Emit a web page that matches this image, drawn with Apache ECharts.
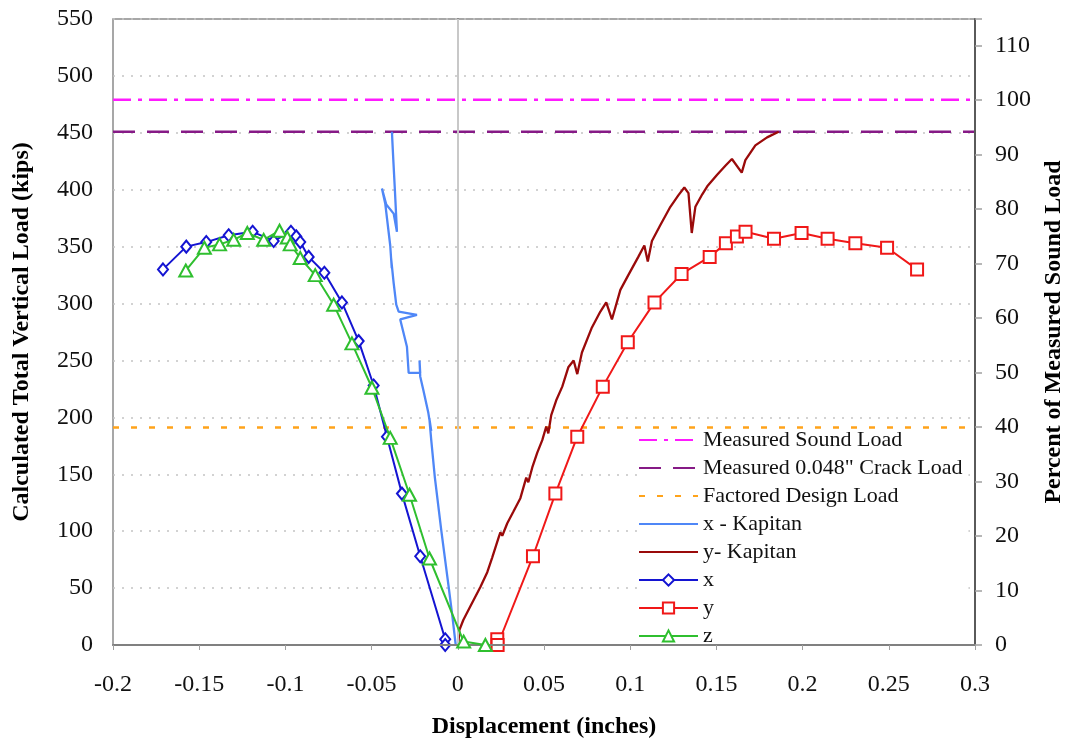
<!DOCTYPE html>
<html>
<head>
<meta charset="utf-8">
<script src="https://cdn.jsdelivr.net/npm/echarts@6/dist/echarts.min.js"></script>
<style>
  html, body { margin: 0; padding: 0; background: #fff; overflow: hidden; }
  #chart { width: 1068px; height: 742px; }
</style>
</head>
<body>
<div id="chart"></div>
<script>
// Reference load levels (kips)
const soundLoad = 479;
const crackLoad = 451;
const designLoad = 191;

// Axis ranges
const xMin = -0.2, xMax = 0.3, xStep = 0.05;
const loadMax = 550, loadStep = 50;
const pctStep = 10;

// x - Kapitan: displacement (in) and load (kips)
const xKapDisp = [-0.0012, -0.0032, -0.0053, -0.0096, -0.0133, -0.0154, -0.0165, -0.0154, -0.0171, -0.0200,
  -0.0218, -0.0222, -0.0218, -0.0285, -0.0295, -0.0334, -0.0237, -0.0343, -0.0357, -0.0372,
  -0.0387, -0.0383, -0.0392, -0.0421, -0.0440, -0.0415, -0.0372, -0.0353, -0.0365, -0.0374,
  -0.0380, -0.0382];
const xKapLoad = [0, 26, 51, 101, 147, 180, 199, 188, 204, 224,
  236, 250, 239, 239, 262, 286, 290, 293, 299, 318,
  340, 331, 351, 388, 401, 387, 379, 363, 400, 426,
  444, 451];

// y- Kapitan
const yKapDisp = [0.0003, 0.0009, 0.0032, 0.0073, 0.0131, 0.0171, 0.0200, 0.0238, 0.0247, 0.0258,
  0.0287, 0.0322, 0.0363, 0.0397, 0.0409, 0.0432, 0.0461, 0.0490, 0.0513, 0.0525,
  0.0542, 0.0571, 0.0606, 0.0641, 0.0672, 0.0693, 0.0720, 0.0778, 0.0827, 0.0861,
  0.0894, 0.0943, 0.0989, 0.1047, 0.1082, 0.1102, 0.1126, 0.1175, 0.1233, 0.1279,
  0.1314, 0.1338, 0.1357, 0.1378, 0.1418, 0.1447, 0.1503, 0.1552, 0.1590, 0.1647,
  0.1668, 0.1726, 0.1794, 0.1861];
const yKapLoad = [0, 13, 22, 34, 51, 64, 77, 95, 99, 96,
  107, 117, 129, 147, 143, 156, 169, 180, 192, 186,
  202, 215, 227, 244, 250, 238, 257, 279, 293, 301,
  286, 312, 325, 341, 351, 337, 355, 369, 385, 395,
  402, 397, 362, 385, 396, 403, 413, 421, 427, 415,
  426, 439, 446, 451];

// x (diamonds)
const xDisp = [-0.1710, -0.1575, -0.1459, -0.1329, -0.1190, -0.1068, -0.0968, -0.0937, -0.0914, -0.0865,
  -0.0774, -0.0672, -0.0575, -0.0488, -0.0411, -0.0324, -0.0218, -0.0073, -0.0073];
const xLoad = [330, 350, 354, 360, 363, 355, 363, 359, 354, 341,
  327, 301, 267, 228, 183, 133, 78, 5, 0];

// y (squares)
const yDisp = [0.0229, 0.0231, 0.0436, 0.0566, 0.0693, 0.0841, 0.0986, 0.1141, 0.1298, 0.1461,
  0.1555, 0.1619, 0.1669, 0.1834, 0.1994, 0.2145, 0.2306, 0.2490, 0.2664];
const yLoad = [5, 0, 78, 133, 183, 227, 266, 301, 326, 341,
  353, 359, 363, 357, 362, 357, 353, 349, 330];

// z (triangles)
const zDisp = [-0.1578, -0.1470, -0.1382, -0.1300, -0.1221, -0.1126, -0.1034, -0.0989, -0.0972, -0.0914,
  -0.0827, -0.0720, -0.0614, -0.0498, -0.0392, -0.0280, -0.0164, 0.0034, 0.0160];
const zLoad = [329, 349, 352, 356, 362, 356, 364, 358, 352, 340,
  325, 299, 265, 226, 182, 132, 76, 3, 0];

const pairs = (xs, ys) => xs.map((v, i) => [v, ys[i]]);
const flat = (v) => [[xMin, v], [xMax, v]];

const serif = 'Liberation Serif';
const chart = echarts.init(document.getElementById('chart'));

// legend entries for plain lines carry no marker
const noMarker = { color: 'rgba(0,0,0,0)', borderWidth: 0, opacity: 0 };

chart.setOption({
  animation: false,
  backgroundColor: '#fff',
  textStyle: { fontFamily: serif, color: '#000' },
  grid: {
    left: 113, right: 93, top: 19, bottom: 97,
    outerBoundsMode: 'none', containLabel: false,
    show: true, borderColor: '#8a8a8a', borderWidth: 1.5, backgroundColor: '#fff'
  },
  legend: {
    orient: 'vertical',
    left: 638, top: 429,
    padding: [0, 6, 2, 0],
    backgroundColor: '#fff',
    itemWidth: 59, itemHeight: 14, itemGap: 6,
    textStyle: { fontFamily: serif, fontSize: 22, color: '#111', lineHeight: 22 },
    data: [
      { name: 'Measured Sound Load', itemStyle: noMarker },
      { name: 'Measured 0.048" Crack Load', itemStyle: noMarker },
      { name: 'Factored Design Load', itemStyle: noMarker },
      { name: 'x - Kapitan', itemStyle: noMarker },
      { name: 'y- Kapitan', itemStyle: noMarker },
      'x', 'y', 'z'
    ]
  },
  xAxis: {
    type: 'value',
    z: 6,
    min: xMin, max: xMax, interval: xStep,
    name: 'Displacement (inches)',
    nameLocation: 'middle', nameGap: 70,
    nameTextStyle: { fontFamily: serif, fontSize: 24, fontWeight: 'bold', color: '#000' },
    axisLine: { onZero: false, lineStyle: { color: '#808080', width: 2 } },
    axisTick: { show: true, length: 5, lineStyle: { color: '#a0a0a0' } },
    axisLabel: { fontFamily: serif, fontSize: 24, color: '#111', margin: 28 },
    splitLine: { show: false }
  },
  yAxis: [{
    type: 'value',
    min: 0, max: loadMax, interval: loadStep,
    name: 'Calculated Total Vertical Load (kips)',
    nameLocation: 'middle', nameGap: 79, nameRotate: 90,
    nameTextStyle: { fontFamily: serif, fontSize: 24, fontWeight: 'bold', color: '#000' },
    axisLine: { show: true, lineStyle: { color: '#808080', width: 2 } },
    axisTick: { show: false },
    axisLabel: { fontFamily: serif, fontSize: 24, color: '#111', margin: 20 },
    splitLine: { show: true, lineStyle: { color: '#c4c4c4', width: 1.5, type: [2, 7] } }
  }, {
    type: 'value',
    position: 'right',
    z: 6,
    min: 0, max: loadMax / soundLoad * 100, interval: pctStep,
    name: 'Percent of Measured Sound Load',
    nameLocation: 'middle', nameGap: 63, nameRotate: 90,
    nameTextStyle: { fontFamily: serif, fontSize: 24, fontWeight: 'bold', color: '#000' },
    axisLine: { show: true, lineStyle: { color: '#5a5a5a', width: 2 } },
    axisTick: { show: true, length: 7, lineStyle: { color: '#a0a0a0', width: 1.5 } },
    axisLabel: {
      fontFamily: serif, fontSize: 24, color: '#111', margin: 20,
      formatter: (v) => (Math.abs(v / pctStep - Math.round(v / pctStep)) < 1e-6 ? String(Math.round(v)) : '')
    },
    splitLine: { show: false }
  }],
  series: [
    {
      name: 'Measured Sound Load', type: 'line', symbol: 'none', z: 3,
      data: flat(soundLoad),
      lineStyle: { color: '#ff1aff', width: 2.5, type: [18, 7, 4, 7] },
      itemStyle: { color: '#ff1aff' },
      markLine: {
        silent: true, symbol: 'none', label: { show: false },
        lineStyle: { color: '#c8c8c8', width: 2, type: 'solid' },
        data: [{ xAxis: 0 }]
      }
    },
    {
      name: 'Measured 0.048" Crack Load', type: 'line', symbol: 'none', z: 3,
      data: flat(crackLoad),
      lineStyle: { color: '#861a86', width: 2.5, type: [22, 12] },
      itemStyle: { color: '#861a86' }
    },
    {
      name: 'Factored Design Load', type: 'line', symbol: 'none', z: 3,
      data: flat(designLoad),
      lineStyle: { color: '#ffa31a', width: 2.5, type: [6, 12] },
      itemStyle: { color: '#ffa31a' }
    },
    {
      name: 'x - Kapitan', type: 'line', symbol: 'none', z: 4,
      data: pairs(xKapDisp, xKapLoad),
      lineStyle: { color: '#4f87f7', width: 2.3 },
      itemStyle: { color: '#4f87f7' }
    },
    {
      name: 'y- Kapitan', type: 'line', symbol: 'none', z: 4,
      data: pairs(yKapDisp, yKapLoad),
      lineStyle: { color: '#9a0a0a', width: 2.3 },
      itemStyle: { color: '#9a0a0a' }
    },
    {
      name: 'x', type: 'line', symbol: 'emptyDiamond', symbolSize: [10, 12], z: 5,
      data: pairs(xDisp, xLoad),
      lineStyle: { color: '#1414d2', width: 2 },
      itemStyle: { color: '#1414d2', borderWidth: 1.2 }
    },
    {
      name: 'y', type: 'line', symbol: 'emptyRect', symbolSize: 12, z: 5,
      data: pairs(yDisp, yLoad),
      lineStyle: { color: '#f01818', width: 2 },
      itemStyle: { color: '#f01818', borderWidth: 1.2 }
    },
    {
      name: 'z', type: 'line', symbol: 'emptyTriangle', symbolSize: [13, 12], z: 6,
      data: pairs(zDisp, zLoad),
      lineStyle: { color: '#2fbf2f', width: 2 },
      itemStyle: { color: '#2fbf2f', borderWidth: 1.2 }
    }
  ]
});
</script>
</body>
</html>
